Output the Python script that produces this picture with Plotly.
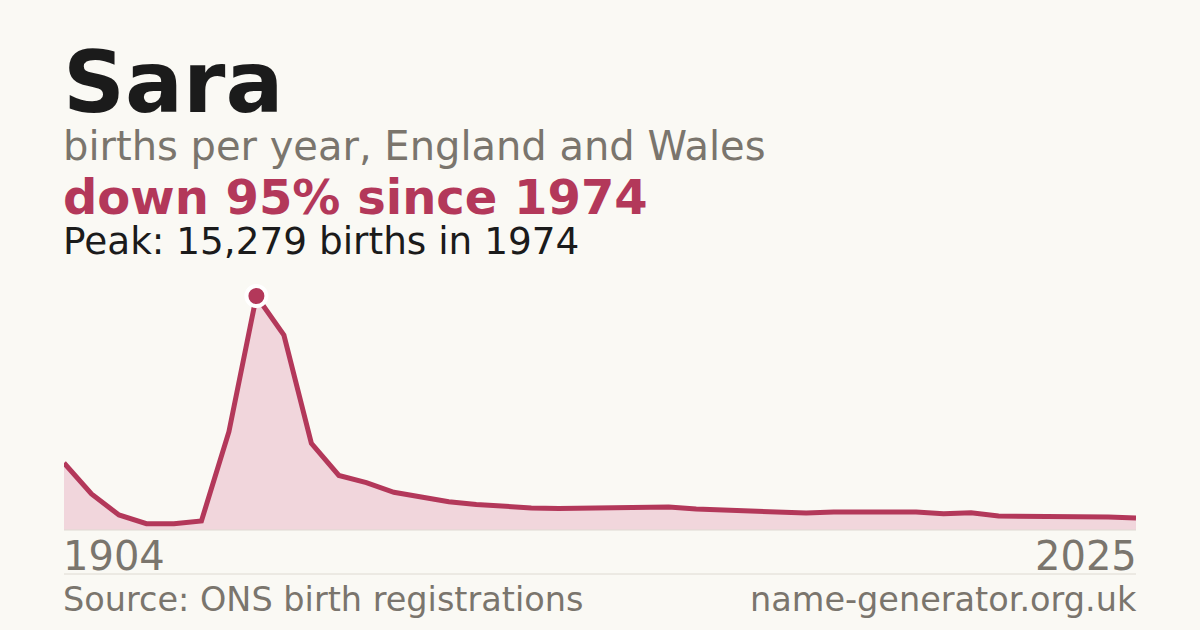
import plotly.graph_objects as go

# ONS name counts: decade snapshots to 1994, yearly from 1996
years = ["1904", "1914", "1924", "1934", "1944", "1954", "1964", "1974", "1984", "1994",
         "1996", "1997", "1998", "1999", "2000", "2001", "2002", "2003", "2004", "2005",
         "2006", "2007", "2008", "2009", "2010", "2011", "2012", "2013", "2014", "2015",
         "2016", "2017", "2018", "2019", "2020", "2021", "2022", "2023", "2024", "2025"]
births = [4380, 2350, 980, 410, 410, 590, 6420, 15279, 12730, 5660,
          3560, 3090, 2460, 2120, 1850, 1665, 1550, 1440, 1405, 1440,
          1455, 1455, 1500, 1370, 1305, 1175, 1175, 1110, 1175, 1175,
          1175, 1175, 1060, 1120, 915, 915, 850, 850, 850, 780]

name = "Sara"
subtitle = "births per year, England and Wales"
source = "Source: ONS birth registrations"
site = "name-generator.org.uk"

BG = "#faf9f4"
RED = "#b3385a"
FILL = "#f1d6dc"
GREY = "#7a756d"
INK = "#1b1b1b"
RULE = "#dedad2"
FONT = "DejaVu Sans"

peak = max(births)
peak_year = years[births.index(peak)]
change = round((1 - births[-1] / peak) * 100)

# plot box in pixels
L, R, TOP, BOT = 64, 1136, 296, 530


def py(pix):
    return (BOT - pix) / (BOT - TOP)


def px(pix):
    return (pix - L) / (R - L)


fig = go.Figure()
fig.add_trace(go.Scatter(
    x=years, y=births, mode="lines", fill="tozeroy", fillcolor=FILL,
    line=dict(color=RED, width=5), hoverinfo="skip"))
fig.add_trace(go.Scatter(
    x=[peak_year], y=[peak], mode="markers", cliponaxis=False,
    marker=dict(size=20, color=RED, line=dict(color="white", width=4)),
    hoverinfo="skip"))

texts = [
    (name, 86, INK, True, 82, "left"),
    (subtitle, 40, GREY, False, 146, "left"),
    (f"down {change}% since {peak_year}", 48, RED, True, 197, "left"),
    (f"Peak: {peak:,} births in {peak_year}", 37.4, INK, False, 241, "left"),
    (years[0], 40, GREY, False, 556, "left"),
    (years[-1], 40, GREY, False, 556, "right"),
    (source, 33.5, GREY, False, 599, "left"),
    (site, 33.5, GREY, False, 599, "right"),
]
annotations = []
for txt, size, color, bold, ypix, side in texts:
    annotations.append(dict(
        text=f"<b>{txt}</b>" if bold else txt,
        xref="paper", yref="paper",
        x=px(L - 3) if side == "left" else px(R + 3), y=py(ypix),
        xanchor=side, yanchor="middle", showarrow=False,
        font=dict(family=FONT, size=size, color=color)))

fig.update_layout(
    width=1200, height=630,
    margin=dict(l=L, r=1200 - R, t=TOP, b=630 - BOT),
    paper_bgcolor=BG, plot_bgcolor=BG,
    showlegend=False,
    annotations=annotations,
    shapes=[
        dict(type="line", xref="paper", yref="paper", x0=0, x1=1, y0=0, y1=0,
             line=dict(color=RULE, width=1)),
        dict(type="line", xref="paper", yref="paper", x0=0, x1=1,
             y0=py(574), y1=py(574), line=dict(color=RULE, width=1)),
    ],
)
fig.update_xaxes(type="category", range=[0, len(years) - 1], visible=False)
fig.update_yaxes(range=[0, peak], visible=False)

# drop the default page margin so the figure sits at the window corner
fig.write_html("out.html", config={"displayModeBar": False},
               post_script="document.body.style.margin='0';")
